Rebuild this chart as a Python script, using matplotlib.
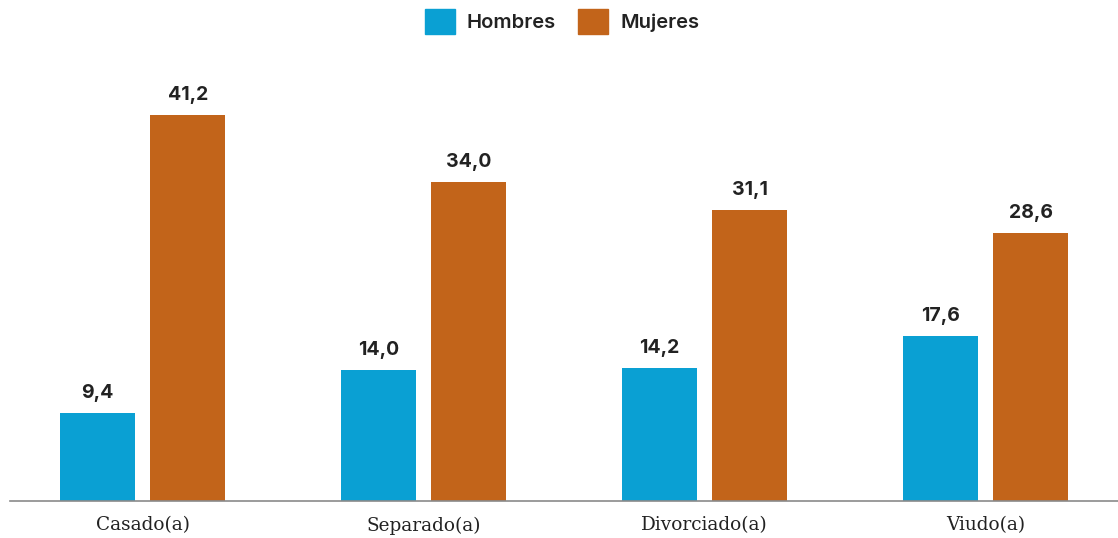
import numpy as np
import matplotlib.pyplot as plt
from matplotlib.patches import Patch

categorias = ["Casado(a)", "Separado(a)", "Divorciado(a)", "Viudo(a)"]
hombres = [9.4, 14.0, 14.2, 17.6]
mujeres = [41.2, 34.0, 31.1, 28.6]
series = ["Hombres", "Mujeres"]

azul = "#0aa0d3"
naranja = "#c2641a"
texto = "#222222"

W, H = 1118, 538
fig = plt.figure(figsize=(W / 100, H / 100), dpi=100)
ax = fig.add_axes([10 / W, 1 - 501 / H, 1108 / W, 441 / H])

x = np.arange(len(categorias))
ancho = 0.266
desp = 0.161
b1 = ax.bar(x - desp, hombres, ancho, color=azul)
b2 = ax.bar(x + desp, mujeres, ancho, color=naranja)

def fmt(v):
    return f"{v:.1f}".replace(".", ",")

for barras, vals in ((b1, hombres), (b2, mujeres)):
    for b, v in zip(barras, vals):
        ax.annotate(fmt(v), (b.get_x() + b.get_width() / 2, v),
                    xytext=(0, 8), textcoords="offset points",
                    ha="center", va="bottom", fontsize=14, fontweight="bold",
                    family="Inter", color=texto)

ax.set_xlim(-0.472, len(categorias) - 1 + 0.472)
ax.set_ylim(0, 47.07)
ax.set_xticks(x)
ax.set_xticklabels(categorias, family="DejaVu Serif", fontsize=13.3, color=texto)
ax.tick_params(axis="x", length=0, pad=11)
ax.set_yticks([])
for s in ("top", "right", "left"):
    ax.spines[s].set_visible(False)
ax.spines["bottom"].set_color("#8a8a8a")
ax.spines["bottom"].set_linewidth(1.2)

handles = [Patch(color=azul), Patch(color=naranja)]
fig.legend(handles, series, loc="upper center", bbox_to_anchor=(562 / W, 1 + 9 / H),
           ncol=2, frameon=False, prop={"family": "Inter", "weight": "semibold", "size": 14.5},
           handlelength=1.5, handleheight=1.5, handletextpad=0.6, columnspacing=1.1,
           labelcolor=texto)

fig.savefig("out.png", dpi=100)
